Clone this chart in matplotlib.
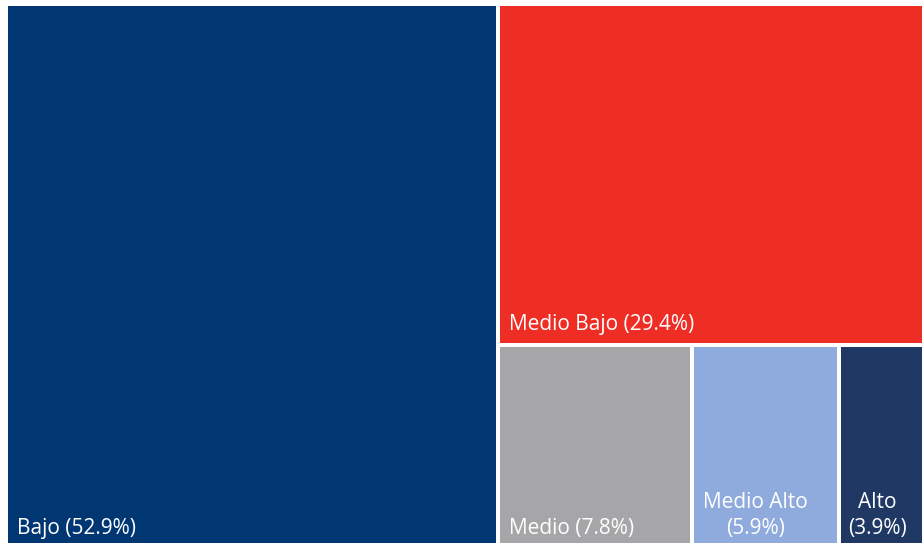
import matplotlib
matplotlib.use("Agg")
import matplotlib.pyplot as plt
from matplotlib.patches import Rectangle

categories = ["Bajo", "Medio Bajo", "Medio", "Medio Alto", "Alto"]
values = [52.9, 29.4, 7.8, 5.9, 3.9]
colors = ["#003672", "#EE2D24", "#A6A6A8", "#8FAADC", "#1F3864"]

W, H = 922, 543
fig = plt.figure(figsize=(W / 100, H / 100), dpi=100)
ax = fig.add_axes([0, 0, 1, 1])
ax.set_xlim(0, W)
ax.set_ylim(H, 0)
ax.axis("off")

# layout region (extends slightly beyond the right/bottom edges, as in the reference)
x0, y0, x1, y1 = 6, 4, 936, 549
gap = 2
total = sum(values)

rects = []
wl = (x1 - x0) * values[0] / total
rects.append((x0, y0, wl, y1 - y0))
rx = x0 + wl
rw = x1 - rx
rest = total - values[0]
hh = (y1 - y0) * values[1] / rest
rects.append((rx, y0, rw, hh))
by = y0 + hh
bh = y1 - by
row = values[2:]
cx = rx
for v in row:
    w = rw * v / sum(row)
    rects.append((cx, by, w, bh))
    cx += w

font = "Open Sans"
fs = 15
for i, (cat, val, col, (x, y, w, h)) in enumerate(zip(categories, values, colors, rects)):
    ax.add_patch(Rectangle((x + gap, y + gap), w - 2 * gap, h - 2 * gap,
                           facecolor=col, edgecolor="none"))
    label = f"{cat} ({val}%)"
    if i < 3:
        ax.text(x + gap + 9, y + h - gap - 13, label, color="white", fontsize=fs,
                family=font, ha="left", va="baseline")
    else:
        ax.text(x + w / 2 - 10, y + h - gap - 13, f"{cat}\n({val}%)", color="white",
                fontsize=fs, family=font, ha="center", va="baseline",
                linespacing=1.3)

fig.savefig("out.png", dpi=100)
